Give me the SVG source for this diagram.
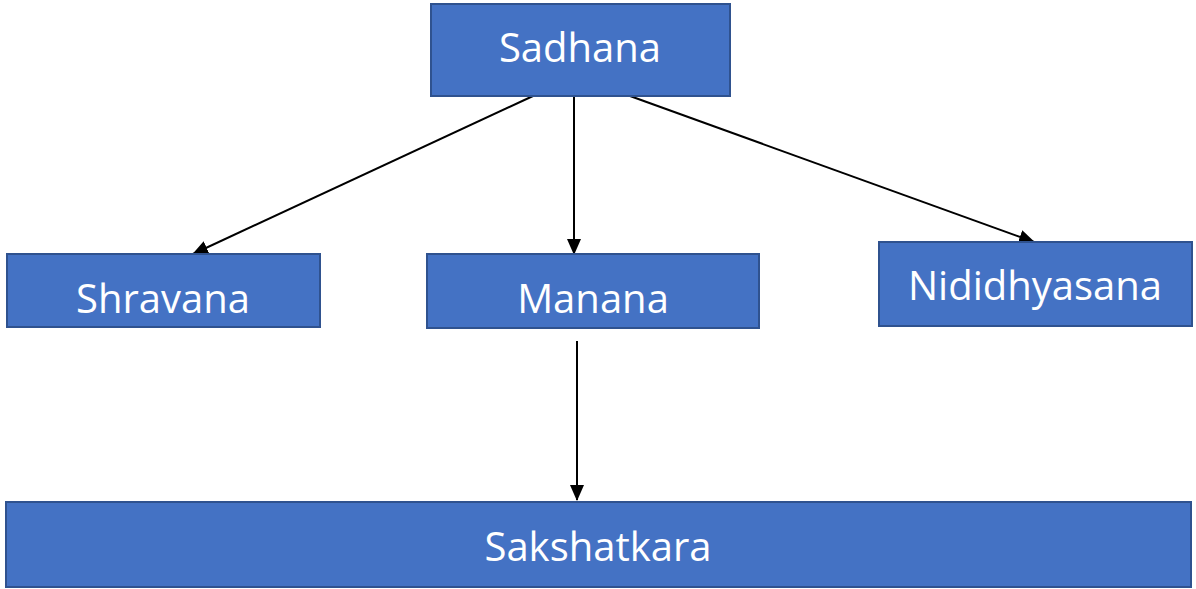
<svg xmlns="http://www.w3.org/2000/svg" width="1196" height="589" viewBox="0 0 1196 589">
<style>
.box{fill:#4472c4;stroke:#2f528f;stroke-width:2}
.lbl{fill:#fff;font-family:"Open Sans","Noto Sans",sans-serif;font-size:40px;text-anchor:middle}
.conn{stroke:#000;stroke-width:2;fill:none;marker-end:url(#ah)}
</style>
<defs>
<marker id="ah" markerWidth="16" markerHeight="14" refX="15" refY="7" orient="auto" markerUnits="userSpaceOnUse" viewBox="0 0 16 14">
<path d="M0,0 L16,7 L0,14 z" fill="#000"/>
</marker>
</defs>
<rect width="1196" height="589" fill="#fff"/>
<g id="connectors">
<line class="conn" x1="533" y1="96" x2="193" y2="254"/>
<line class="conn" x1="574" y1="96" x2="574" y2="254"/>
<line class="conn" x1="630" y1="96" x2="1034" y2="242"/>
<line class="conn" x1="577" y1="341" x2="577" y2="500"/>
</g>
<g id="sadhana"><rect class="box" x="431" y="4" width="299" height="92"/><text class="lbl" x="580" y="62">Sadhana</text></g>
<g id="shravana"><rect class="box" x="7" y="254" width="313" height="73"/><text class="lbl" x="163" y="313">Shravana</text></g>
<g id="manana"><rect class="box" x="427" y="254" width="332" height="74"/><text class="lbl" x="593" y="313">Manana</text></g>
<g id="nididhyasana"><rect class="box" x="879" y="242" width="313" height="84"/><text class="lbl" x="1035" y="300">Nididhyasana</text></g>
<g id="sakshatkara"><rect class="box" x="6" y="502" width="1185" height="85"/><text class="lbl" x="598" y="561">Sakshatkara</text></g>
</svg>
